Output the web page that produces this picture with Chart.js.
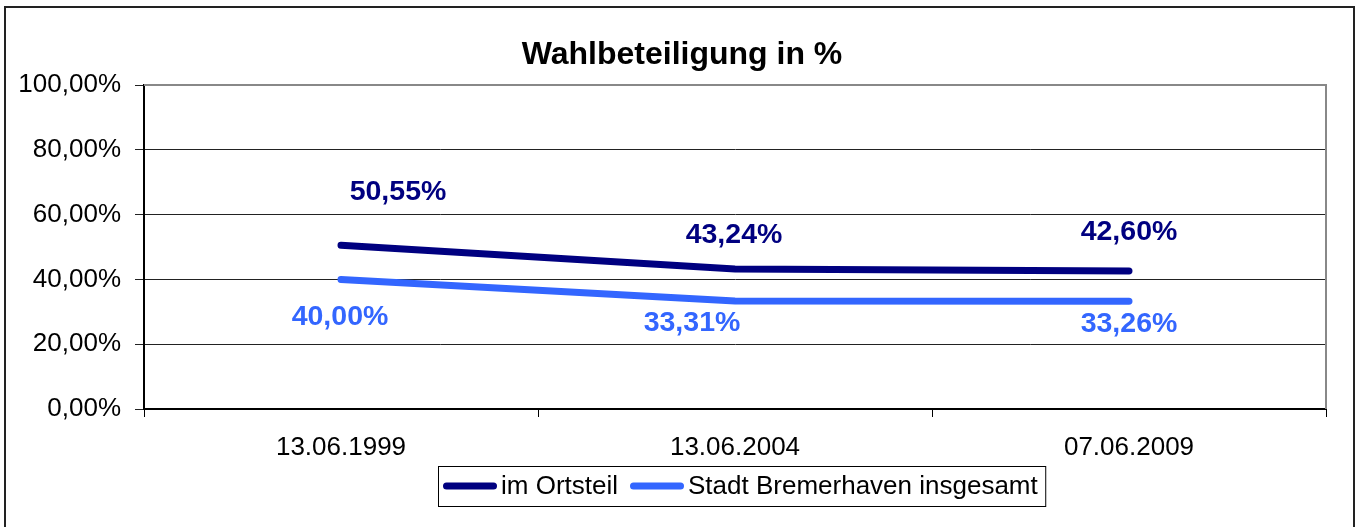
<html>
  <head>
    <title>Wahlbeteiligung</title>
    <style>
      body { margin: 0; background: #fff; }
      .chart-container { position: relative; width: 1357px; height: 527px; }
    </style>
    <script src="https://cdn.jsdelivr.net/npm/chart.js"></script>
  </head>
  <body>
    <div class="chart-container">
      <canvas id="myChart"></canvas>
    </div>
    <script>
      // data
      const labels = ["13.06.1999", "13.06.2004", "07.06.2009"];
      const ortsteil = [50.55, 43.24, 42.60];
      const bremerhaven = [40.00, 33.31, 33.26];
      const seriesNames = ["im Ortsteil", "Stadt Bremerhaven insgesamt"];
      const yTicks = [0, 20, 40, 60, 80, 100];
      const chartTitle = "Wahlbeteiligung in %";

      // label offsets (px) from each point, as placed in the original
      const labelShift = [
        { dx: [57, -1, 0], dy: [-53, -34, -39] },
        { dx: [-1, -43, 0], dy: [38, 22, 23] }
      ];

      const FONT = "'Liberation Sans', Arial, sans-serif";
      const pct = (v) => v.toFixed(2).replace(".", ",") + "%";

      // outer frame + plot frame + title
      const framePlugin = {
        id: "frame",
        beforeDatasetsDraw(chart) {
          const ctx = chart.ctx, a = chart.chartArea;
          ctx.save();
          ctx.strokeStyle = "#888";
          ctx.lineWidth = 2;
          ctx.beginPath();
          ctx.moveTo(a.left, a.top);
          ctx.lineTo(a.right, a.top);
          ctx.lineTo(a.right, a.bottom);
          ctx.stroke();
          ctx.restore();
        },
        afterDraw(chart) {
          const ctx = chart.ctx;
          ctx.save();
          ctx.strokeStyle = "#222";
          ctx.lineWidth = 2;
          ctx.strokeRect(5, 7, 1349, 540);
          ctx.fillStyle = "#000";
          ctx.font = "bold 32px " + FONT;
          ctx.textAlign = "center";
          ctx.textBaseline = "middle";
          ctx.fillText(chartTitle, 682, 55);
          ctx.restore();
        }
      };

      // value labels
      const labelPlugin = {
        id: "valueLabels",
        afterDatasetsDraw(chart) {
          const ctx = chart.ctx;
          ctx.save();
          ctx.font = "bold 28.5px " + FONT;
          ctx.textAlign = "center";
          ctx.textBaseline = "middle";
          chart.data.datasets.forEach((ds, i) => {
            const meta = chart.getDatasetMeta(i);
            ctx.fillStyle = ds.borderColor;
            meta.data.forEach((pt, j) => {
              ctx.fillText(pct(ds.data[j]), pt.x + labelShift[i].dx[j], pt.y + labelShift[i].dy[j]);
            });
          });
          ctx.restore();
        }
      };

      // boxed legend with line samples
      const legendPlugin = {
        id: "boxLegend",
        afterDraw(chart) {
          const ctx = chart.ctx;
          ctx.save();
          ctx.font = "26px " + FONT;
          ctx.textBaseline = "middle";
          let x = 443;
          const y = 486;
          chart.data.datasets.forEach((ds) => {
            ctx.strokeStyle = ds.borderColor;
            ctx.lineWidth = 7;
            ctx.lineCap = "round";
            ctx.beginPath();
            ctx.moveTo(x + 3.5, y);
            ctx.lineTo(x + 54 - 3.5, y);
            ctx.stroke();
            x += 58;
            ctx.fillStyle = "#000";
            ctx.fillText(ds.label, x, y + 1);
            x += ctx.measureText(ds.label).width + 12;
          });
          ctx.strokeStyle = "#000";
          ctx.lineWidth = 1;
          ctx.strokeRect(438.5, 466.5, x - 12 + 8 - 438.5, 40);
          ctx.restore();
        }
      };

      new Chart(document.getElementById("myChart"), {
        type: "line",
        data: {
          labels: labels,
          datasets: [
            {
              label: seriesNames[0],
              data: ortsteil,
              borderColor: "#000080",
              backgroundColor: "#000080",
              borderWidth: 7,
              borderCapStyle: "round",
              pointRadius: 0,
              tension: 0
            },
            {
              label: seriesNames[1],
              data: bremerhaven,
              borderColor: "#3366FF",
              backgroundColor: "#3366FF",
              borderWidth: 7,
              borderCapStyle: "round",
              pointRadius: 0,
              tension: 0
            }
          ]
        },
        options: {
          responsive: true,
          maintainAspectRatio: false,
          animation: false,
          layout: { padding: { left: 0, right: 31, top: 85, bottom: 0 } },
          plugins: {
            legend: { display: false },
            tooltip: { enabled: false },
            title: { display: false }
          },
          scales: {
            x: {
              offset: true,
              afterFit: (s) => { s.height = 118; },
              grid: {
                offset: true,
                drawOnChartArea: false,
                drawTicks: true,
                tickLength: 8,
                color: "#000"
              },
              border: { display: true, color: "#000", width: 2 },
              ticks: {
                color: "#000",
                padding: 15,
                maxRotation: 0,
                font: { family: FONT, size: 26 }
              }
            },
            y: {
              min: 0,
              max: 100,
              afterFit: (s) => { s.width = 144; },
              afterBuildTicks: (s) => { s.ticks = yTicks.map((v) => ({ value: v })); },
              grid: {
                color: "#222",
                lineWidth: 1,
                tickLength: 9
              },
              border: { display: true, color: "#000", width: 2 },
              ticks: {
                color: "#000",
                padding: 14,
                font: { family: FONT, size: 26 },
                callback: (v) => pct(v)
              }
            }
          }
        },
        plugins: [framePlugin, labelPlugin, legendPlugin]
      });
    </script>
  </body>
</html>
